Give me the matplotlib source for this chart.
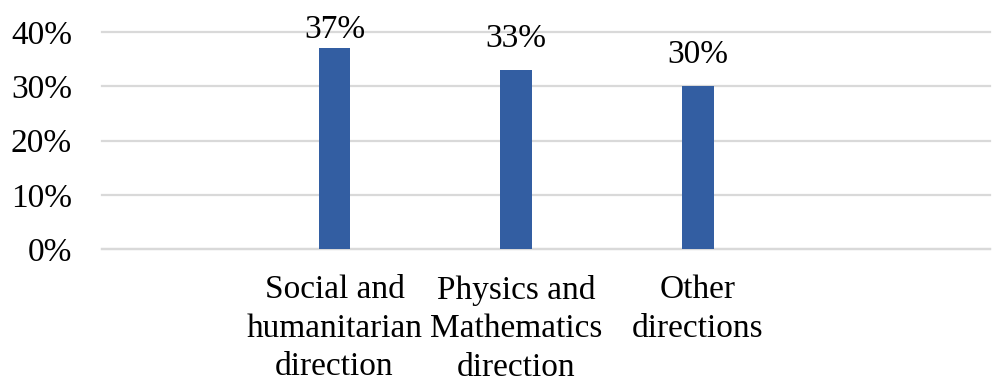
import matplotlib
matplotlib.use("Agg")
import matplotlib.pyplot as plt
from matplotlib.ticker import PercentFormatter

# ─── DATA ───

categories = [
    "Social and\nhumanitarian\ndirection",
    "Physics and\nMathematics\ndirection",
    "Other\ndirections",
]
shares = [0.37, 0.33, 0.30]
y_ticks = [0.0, 0.1, 0.2, 0.3, 0.4]

BAR_COLOR = "#335EA2"
GRID_COLOR = "#D9D9D9"

plt.rcParams["font.family"] = ["Liberation Serif", "DejaVu Serif"]

fig = plt.figure(figsize=(9.99, 3.77), dpi=100)
ax = fig.add_axes([0.102, 0.3395, 0.889, 0.5756])

x = list(range(len(categories)))
ax.bar(x, shares, width=0.176, color=BAR_COLOR, zorder=3)

# value labels; the tallest one is held down so it stays inside the figure
for xi, v in zip(x, shares):
    ax.text(xi, min(v + 0.042, 0.389), f"{v:.0%}", ha="center", va="baseline",
            fontsize=24, color="black", zorder=4)

ax.set_xlim(-1.281, 3.61)
ax.set_ylim(0, 0.4)
ax.set_yticks(y_ticks)
ax.yaxis.set_major_formatter(PercentFormatter(1.0, decimals=0))
ax.set_xticks(x)
ax.set_xticklabels(categories, fontsize=24, linespacing=1.34)

ax.grid(axis="y", color=GRID_COLOR, linewidth=1.6, zorder=0)
for gl in ax.get_ygridlines():
    gl.set_clip_on(False)
ax.tick_params(axis="x", length=0, pad=18.5)
ax.tick_params(axis="y", length=0, pad=21.5, labelsize=24)
for side in ["top", "right", "left"]:
    ax.spines[side].set_visible(False)
ax.spines["bottom"].set_color(GRID_COLOR)
ax.spines["bottom"].set_linewidth(1.6)

fig.savefig("out.png", dpi=100)
